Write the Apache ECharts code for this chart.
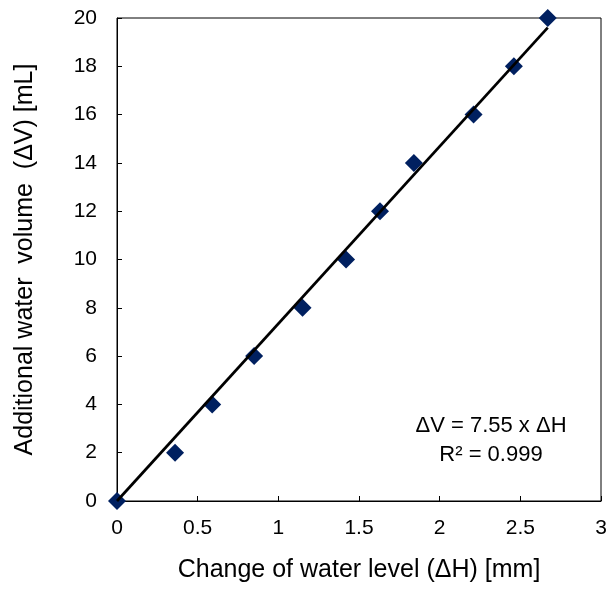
<!DOCTYPE html>
<html>
<head>
<meta charset="utf-8">
<script src="https://cdn.jsdelivr.net/npm/echarts@6/dist/echarts.min.js"></script>
<style>html,body{margin:0;padding:0;background:#fff}#c{width:610px;height:589px}</style>
</head>
<body>
<div id="c"></div>
<script>
var dH = [0, 0.36, 0.59, 0.85, 1.15, 1.42, 1.63, 1.84, 2.21, 2.46, 2.67];
var dV = [0, 2, 4, 6, 8, 10, 12, 14, 16, 18, 20];
var trendX = [0, 2.67];
var trendY = [0, 19.6];
var xName = 'Change of water level (ΔH) [mm]';
var yName = 'Additional water  volume  (ΔV) [mL]';
var eqLines = ['ΔV = 7.55 x ΔH', 'R² = 0.999'];

var font = '"Liberation Sans", Arial, sans-serif';
var chart = echarts.init(document.getElementById('c'));
chart.setOption({
  animation: false,
  grid: {left: 117, right: 9, top: 18, bottom: 88, show: true, borderColor: '#000', borderWidth: 1, backgroundColor: 'transparent'},
  xAxis: {
    type: 'value', min: 0, max: 3, interval: 0.5,
    name: xName, nameLocation: 'middle', nameGap: 57,
    nameTextStyle: {fontFamily: font, fontSize: 25, color: '#000'},
    axisLine: {show: true, lineStyle: {color: '#000', width: 1}},
    axisTick: {show: true, inside: true, length: 5, lineStyle: {color: '#000'}},
    axisLabel: {fontFamily: font, fontSize: 21, color: '#000', margin: 17},
    splitLine: {show: false}
  },
  yAxis: {
    type: 'value', min: 0, max: 20, interval: 2,
    name: yName, nameLocation: 'middle', nameGap: 79,
    nameTextStyle: {fontFamily: font, fontSize: 25, color: '#000'},
    axisLine: {show: true, lineStyle: {color: '#000', width: 1}},
    axisTick: {show: true, inside: true, length: 5, lineStyle: {color: '#000'}},
    axisLabel: {fontFamily: font, fontSize: 21, color: '#000', margin: 20},
    splitLine: {show: false}
  },
  series: [
    {
      type: 'scatter', symbol: 'diamond', symbolSize: 18,
      itemStyle: {color: '#002060', opacity: 1},
      data: dH.map(function (x, i) { return [x, dV[i]]; }),
      z: 2
    },
    {
      type: 'line', symbol: 'none', silent: true,
      lineStyle: {color: '#000', width: 2.75},
      data: trendX.map(function (x, i) { return [x, trendY[i]]; }),
      z: 3
    }
  ],
  graphic: [
    {type: 'text', x: 491, y: 426, style: {text: eqLines[0], font: '22px ' + font, fill: '#000', textAlign: 'center', textVerticalAlign: 'middle'}},
    {type: 'text', x: 491, y: 455, style: {text: eqLines[1], font: '22px ' + font, fill: '#000', textAlign: 'center', textVerticalAlign: 'middle'}}
  ]
});
</script>
</body>
</html>
